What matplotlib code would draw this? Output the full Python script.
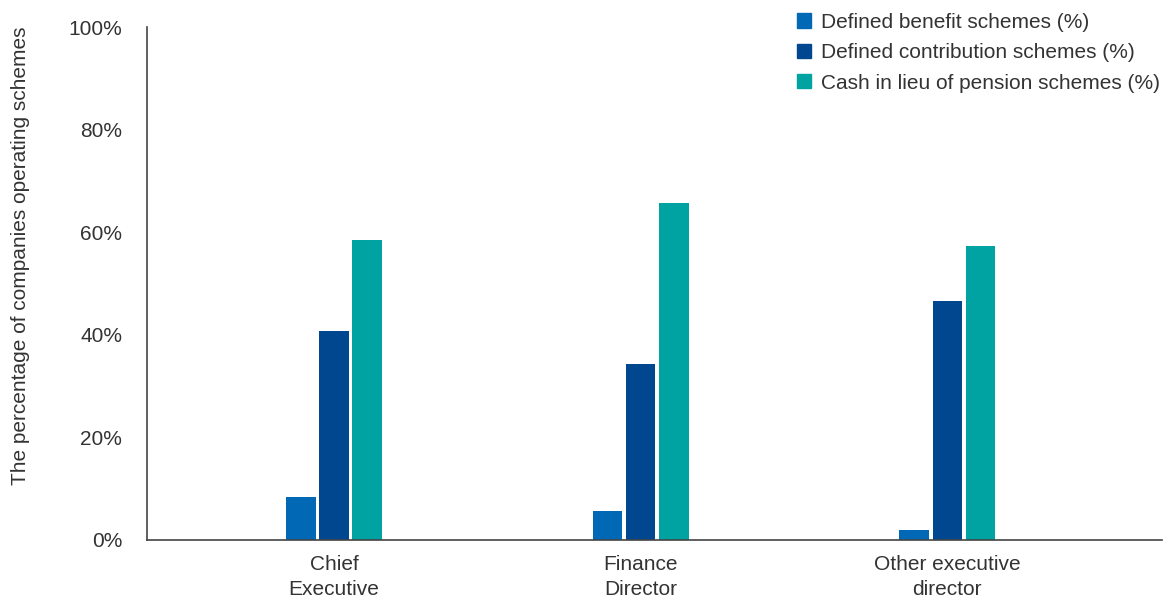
import numpy as np
import matplotlib.pyplot as plt
from matplotlib.patches import Patch

roles = ['Chief\nExecutive', 'Finance\nDirector', 'Other executive\ndirector']
defined_benefit = [8.3, 5.6, 1.9]
defined_contribution = [40.7, 34.2, 46.5]
cash_in_lieu = [58.4, 65.7, 57.3]
series_names = ['Defined benefit schemes (%)',
                'Defined contribution schemes (%)',
                'Cash in lieu of pension schemes (%)']
colors = ['#0068B4', '#00478F', '#00A3A1']

plt.rcParams['font.family'] = ['Liberation Sans', 'DejaVu Sans']
text_col = '#333333'
fs = 15

fig = plt.figure(figsize=(11.65, 6.01), dpi=100)
ax = fig.add_axes([0.1262, 0.1023, 0.8712, 0.8527])

x = np.arange(len(roles))
w = 0.096
step = 0.108
for i, vals in enumerate([defined_benefit, defined_contribution, cash_in_lieu]):
    ax.bar(x + (i - 1) * step, vals, width=w, color=colors[i], label=series_names[i])

ax.set_xlim(-0.61, 2.70)
ax.set_ylim(0, 100)
ax.set_yticks(np.arange(0, 101, 20))
ax.set_yticklabels([f'{v}%' for v in range(0, 101, 20)])
ax.set_xticks(x)
ax.set_xticklabels(roles, linespacing=1.42)
ax.tick_params(length=0, labelsize=fs, colors=text_col)
ax.tick_params(axis='y', pad=18)
ax.tick_params(axis='x', pad=11)
for s in ['top', 'right']:
    ax.spines[s].set_visible(False)
for s in ['left', 'bottom']:
    ax.spines[s].set_color('#444444')
    ax.spines[s].set_linewidth(1.2)

ax.set_ylabel('The percentage of companies operating schemes', fontsize=fs,
              color=text_col)
ax.yaxis.set_label_coords(-0.115, 0.553)

handles = [Patch(color=c) for c in colors]
fig.legend(handles, series_names, loc='upper left', bbox_to_anchor=(0.668, 1.01),
           frameon=False, fontsize=fs, handlelength=0.67, handleheight=0.67,
           handletextpad=0.48, labelspacing=0.55, labelcolor=text_col)

fig.savefig('out.png', dpi=100)
